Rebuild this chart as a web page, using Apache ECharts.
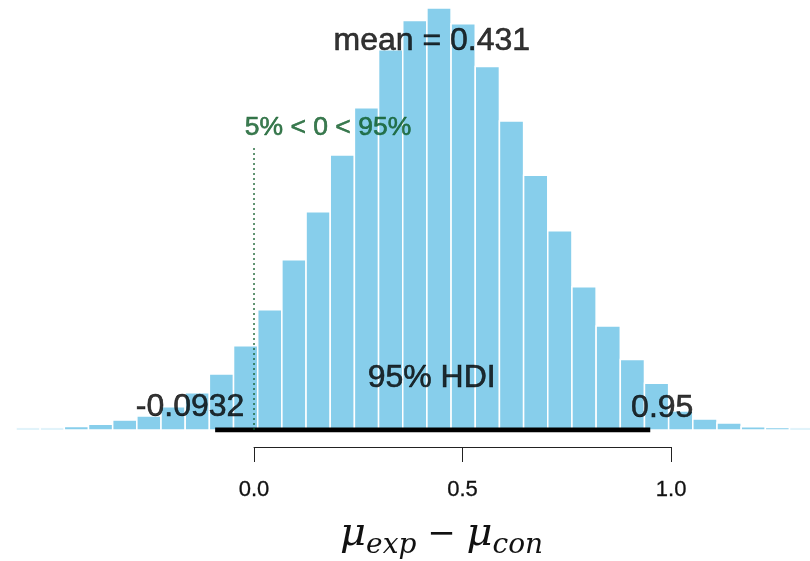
<!DOCTYPE html>
<html>
<head>
<meta charset="utf-8">
<script src="https://cdn.jsdelivr.net/npm/echarts@6/dist/echarts.min.js"></script>
<style>
html,body{margin:0;padding:0;background:#fff;}
#chart{width:810px;height:561px;}
</style>
</head>
<body>
<div id="chart"></div>
<script>
// ---- data ----
const histMin = -0.5707;          // left edge of first bin
const hdiLow = -0.0932;           // 95% HDI lower limit
const hdiHigh = 0.95;             // 95% HDI upper limit
const meanValue = 0.431;
const compValue = 0;
const pctBelow = 5, pctAbove = 95;
const densities = [
  0.008, 0.008, 0.013, 0.022, 0.038, 0.054, 0.089, 0.143, 0.215, 0.323,
  0.461, 0.653, 0.837, 1.055, 1.237, 1.459, 1.571, 1.619, 1.559, 1.395,
  1.186, 0.978, 0.765, 0.550, 0.399, 0.271, 0.179, 0.073, 0.042, 0.027,
  0.012, 0.010, 0.008
];
const tickValues = [0, 0.5, 1.0];
const tickLabels = ['0.0', '0.5', '1.0'];

// bin width as BEST's plotPost computes it (HDI width / 18)
const binWidth = (hdiHigh - hdiLow) / 18;
const bins = densities.map((d, i) => [histMin + i * binWidth, histMin + (i + 1) * binWidth, d]);
const maxDens = Math.max.apply(null, densities);

// ---- layout ----
const W = 810, H = 561;
const xMin = -0.609, xMax = 1.333;
const yMax = 1.65;
const gridBottom = 131;
const px = v => (v - xMin) / (xMax - xMin) * W;
const SANS = '"Liberation Sans", Arial, sans-serif';
const SERIF = '"DejaVu Serif", serif';
const GREEN = '#0b5a26';

const chart = echarts.init(document.getElementById('chart'), null, {renderer: 'canvas'});

function textPoint(name, x, y, text, size, color, dx, dy) {
  return {
    type: 'scatter', name: name, xAxisIndex: 0, yAxisIndex: 0,
    symbolSize: 1, itemStyle: {color: 'transparent'}, silent: true, z: 10,
    data: [[x, y]],
    label: {
      show: true, position: 'inside', formatter: text,
      fontFamily: SANS, fontSize: size, color: color,
      textBorderColor: color, textBorderWidth: 0.6,
      align: 'center', verticalAlign: 'middle', offset: [dx, dy]
    }
  };
}

const option = {
  backgroundColor: '#fff',
  animation: false,
  grid: [
    {left: 0, width: W, top: 0, bottom: gridBottom, outerBoundsMode: 'none', containLabel: false},
    {left: px(0), width: px(1) - px(0), top: 300, bottom: 114, outerBoundsMode: 'none', containLabel: false}
  ],
  xAxis: [
    {gridIndex: 0, type: 'value', min: xMin, max: xMax, show: false},
    {
      gridIndex: 1, type: 'value', min: 0, max: 1, interval: 0.5,
      axisLine: {show: true, lineStyle: {color: '#222', width: 1}},
      axisTick: {show: true, length: 15, inside: false, lineStyle: {color: '#222', width: 1}},
      splitLine: {show: false},
      axisLabel: {
        show: true, margin: 32, fontFamily: SANS, fontSize: 22, color: '#111',
        textBorderColor: '#111', textBorderWidth: 0.3,
        formatter: v => { const i = tickValues.indexOf(v); return i >= 0 ? tickLabels[i] : ''; }
      },
      name: '{m|μ}{s|exp}{o| − }{m|μ}{s|con}',
      nameLocation: 'middle', nameGap: 63,
      nameTextStyle: {
        padding: [0, 42, 0, 0],
        rich: {
          m: {fontFamily: SERIF, fontStyle: 'italic', fontSize: 40, color: '#111', lineHeight: 50, verticalAlign: 'middle'},
          s: {fontFamily: SERIF, fontStyle: 'italic', fontSize: 28, color: '#111', lineHeight: 34, verticalAlign: 'bottom'},
          o: {fontFamily: SERIF, fontSize: 34, color: '#111', lineHeight: 50, verticalAlign: 'middle'}
        }
      }
    }
  ],
  yAxis: [
    {gridIndex: 0, type: 'value', min: 0, max: yMax, show: false},
    {gridIndex: 1, type: 'value', min: 0, max: 1, show: false}
  ],
  series: [
    {
      type: 'custom', name: 'histogram', xAxisIndex: 0, yAxisIndex: 0, clip: true,
      data: bins,
      renderItem: function (params, api) {
        const p0 = api.coord([api.value(0), api.value(2)]);
        const p1 = api.coord([api.value(1), 0]);
        return {
          type: 'rect',
          shape: {x: p0[0], y: p0[1], width: p1[0] - p0[0], height: p1[1] - p0[1]},
          style: {fill: '#87CEEB', stroke: '#ffffff', lineWidth: 1.5}
        };
      }
    },
    {
      type: 'line', name: 'HDI', xAxisIndex: 0, yAxisIndex: 0, symbol: 'none', z: 5,
      data: [[hdiLow, 0], [hdiHigh, 0]],
      lineStyle: {color: '#000', width: 5, cap: 'butt'}
    },
    {
      type: 'line', name: 'comp', xAxisIndex: 0, yAxisIndex: 0, symbol: 'none', z: 5,
      data: [[compValue, 0], [compValue, 0.672 * maxDens]],
      lineStyle: {color: GREEN, width: 1.3, type: [2, 3]}
    },
    textPoint('mean', meanValue, 0.9 * maxDens, 'mean = ' + meanValue, 32, '#000', -2, -9),
    textPoint('cv', compValue, 0.7 * maxDens, pctBelow + '% < ' + compValue + ' < ' + pctAbove + '%', 26.5, GREEN, 74, -7),
    textPoint('hdiTxt', (hdiLow + hdiHigh) / 2, 0, '95% HDI', 32, '#000', -1, -52),
    textPoint('hdiLo', hdiLow, 0, String(hdiLow), 32, '#000', -25, -23),
    textPoint('hdiHi', hdiHigh, 0, String(hdiHigh), 32, '#000', 12, -22)
  ]
};
chart.setOption(option);
</script>
</body>
</html>
